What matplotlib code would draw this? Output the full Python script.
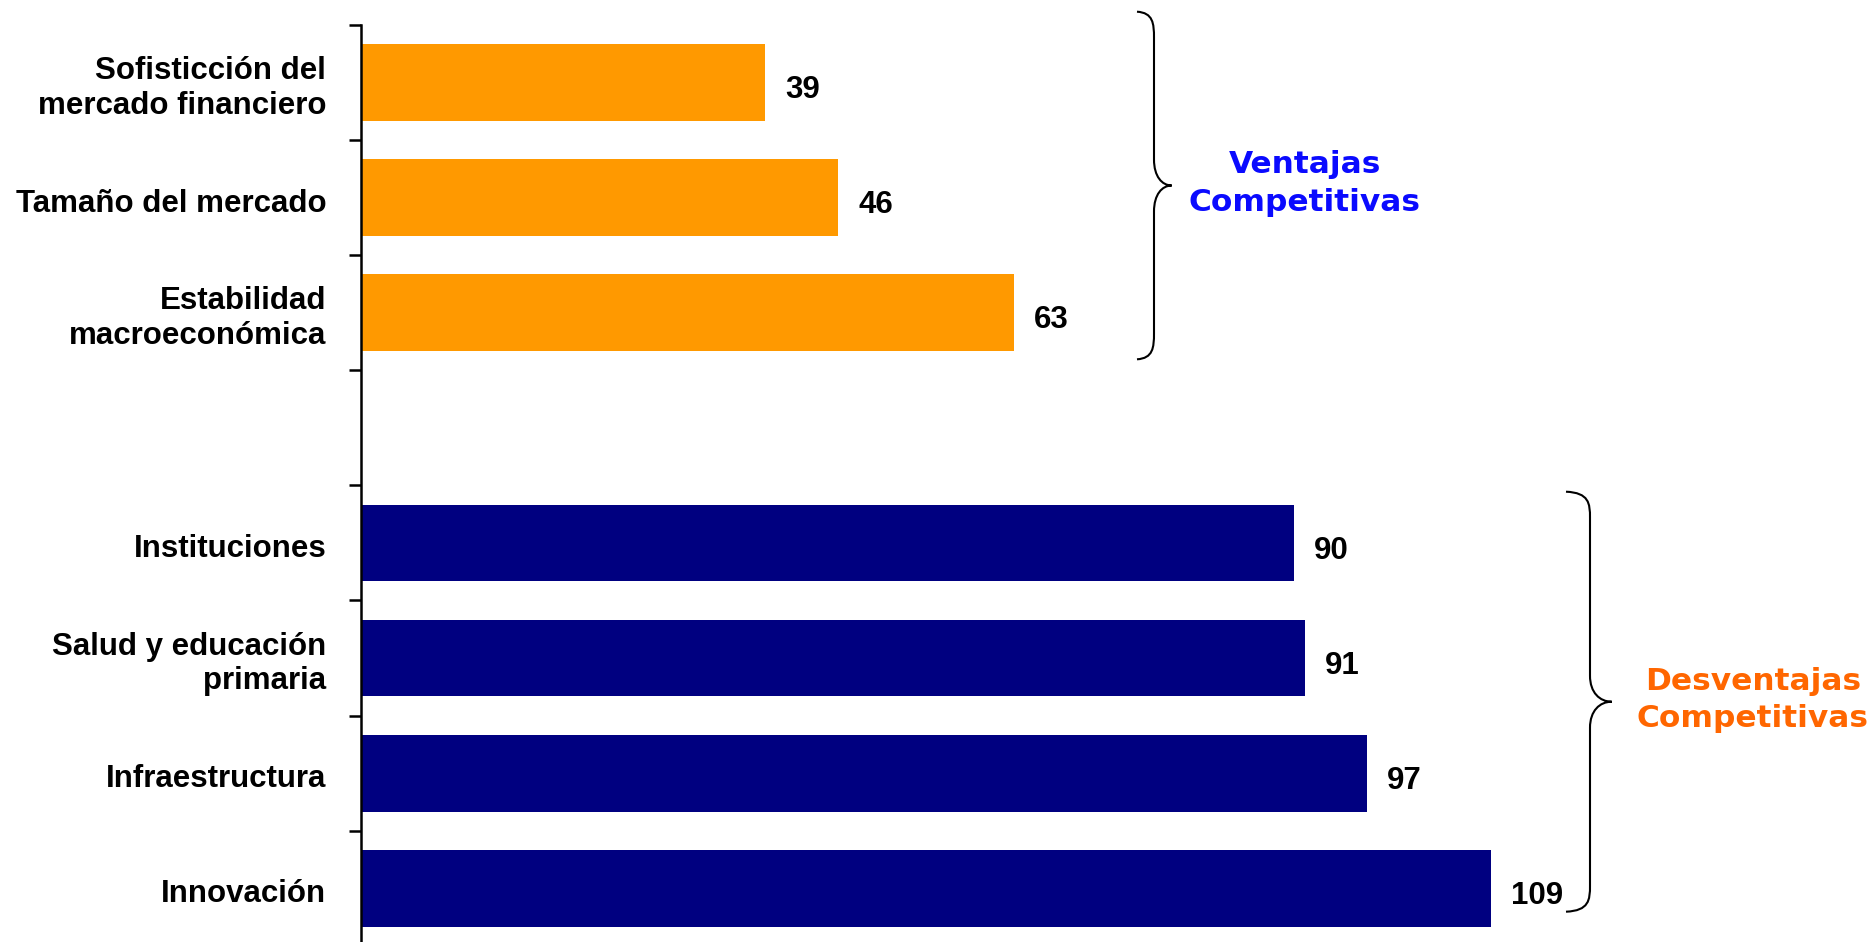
import matplotlib
matplotlib.use("Agg")
import matplotlib.pyplot as plt
from matplotlib.path import Path
from matplotlib.patches import PathPatch
from matplotlib.transforms import Affine2D, ScaledTranslation

# ---- data ----
categories = ["Sofisticción del\nmercado financiero", "Tamaño del mercado",
              "Estabilidad\nmacroeconómica", "",
              "Instituciones", "Salud y educación\nprimaria",
              "Infraestructura", "Innovación"]
values = [39, 46, 63, None, 90, 91, 97, 109]
groups = ["ventaja", "ventaja", "ventaja", None,
          "desventaja", "desventaja", "desventaja", "desventaja"]
group_colors = {"ventaja": "#FF9900", "desventaja": "#000080"}
group_titles = ["Ventajas\nCompetitivas", "Desventajas\nCompetitivas"]
title_colors = ["#0A0AFF", "#FF6600"]

W, H = 1873, 942
fig = plt.figure(figsize=(W / 100, H / 100), dpi=100)
fig.patch.set_facecolor("white")

ax_left, ax_top, ax_bot = 361 / W, 24.8 / H, 945.9 / H
ax = fig.add_axes([ax_left, 1 - ax_bot, (130 * 10.37) / W, ax_bot - ax_top])

label_font = dict(family=["Liberation Sans", "DejaVu Sans"], weight="bold", size=22.5)

pos = list(range(len(categories)))
for p, v, g in zip(pos, values, groups):
    if v is None:
        continue
    ax.barh(p, v, height=0.666, color=group_colors[g], edgecolor="none")
    ax.annotate(str(v), xy=(v, p), xytext=(14.4, -11.3), textcoords="offset points",
                ha="left", va="baseline", color="black", **label_font)

ax.set_xlim(0, 130)
ax.set_ylim(len(categories) - 0.5, -0.5)

for s in ["top", "right", "bottom"]:
    ax.spines[s].set_visible(False)
ax.spines["left"].set_linewidth(1.8)
ax.set_xticks([])

ax.set_yticks([i - 0.5 for i in range(len(categories) + 1)])
ax.set_yticklabels([])
ax.tick_params(axis="y", which="major", direction="out", length=9, width=1.8)
ax.set_yticks(pos, minor=True)
ax.set_yticklabels(categories, minor=True, ha="right", va="center", **label_font)
ax.tick_params(axis="y", which="minor", length=0, pad=25)
shift = ScaledTranslation(0, -6 / 100, fig.dpi_scale_trans)
for lab in ax.get_yticklabels(minor=True):
    lab.set_transform(lab.get_transform() + shift)

# ---- braces (pixel coordinates, y from top) ----
pix = Affine2D().scale(1 / W, -1 / H).translate(0, 1) + fig.transFigure


def brace(x_end, x_spine, x_tip, y_top, y_bot, r=26):
    y_mid = (y_top + y_bot) / 2
    verts = [
        (x_end, y_top),
        (x_spine - 1, y_top + 1), (x_spine, y_top + r * 0.45), (x_spine, y_top + r),
        (x_spine, y_mid - r),
        (x_spine, y_mid - r * 0.35), (x_spine + (x_tip - x_spine) * 0.45, y_mid), (x_tip, y_mid),
        (x_spine + (x_tip - x_spine) * 0.45, y_mid), (x_spine, y_mid + r * 0.35), (x_spine, y_mid + r),
        (x_spine, y_bot - r),
        (x_spine, y_bot - r * 0.45), (x_spine - 1, y_bot - 1), (x_end, y_bot),
    ]
    codes = [Path.MOVETO,
             Path.CURVE4, Path.CURVE4, Path.CURVE4,
             Path.LINETO,
             Path.CURVE4, Path.CURVE4, Path.CURVE4,
             Path.CURVE4, Path.CURVE4, Path.CURVE4,
             Path.LINETO,
             Path.CURVE4, Path.CURVE4, Path.CURVE4]
    fig.patches.append(PathPatch(Path(verts, codes), transform=pix, fill=False,
                                 edgecolor="black", linewidth=1.5, clip_on=False))
    return y_mid


title_font = dict(family=["DejaVu Sans"], weight="bold", size=22.5)
braces = [(1137, 1154, 1171.7, 11.7, 359.3, 1305), (1566, 1590, 1611.7, 491.7, 911.7, 1753)]
for (xe, xs, xt, yt, yb, xc), t, c in zip(braces, group_titles, title_colors):
    ym = brace(xe, xs, xt, yt, yb)
    fig.text(xc / W, 1 - (ym - 2) / H, t, ha="center", va="center", multialignment="center",
             color=c, linespacing=1.35, **title_font)

fig.savefig("out.png", dpi=100, facecolor="white")
